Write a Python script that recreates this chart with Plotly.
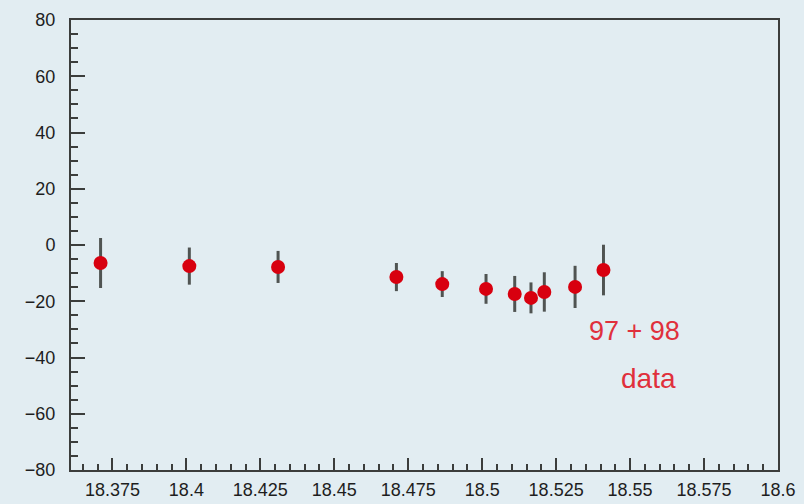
import plotly.graph_objects as go

x_vals = [18.371, 18.401, 18.431, 18.471, 18.4865, 18.5013, 18.511, 18.5165, 18.521, 18.5314, 18.541]
y_vals = [-6.4, -7.5, -7.8, -11.4, -13.9, -15.6, -17.4, -18.8, -16.7, -14.9, -8.9]
y_err = [8.9, 6.6, 5.7, 5.0, 4.6, 5.3, 6.4, 5.5, 7.0, 7.5, 9.0]

x_ticks = [18.375, 18.4, 18.425, 18.45, 18.475, 18.5, 18.525, 18.55, 18.575, 18.6]
x_ticktext = ["18.375", "18.4", "18.425", "18.45", "18.475", "18.5", "18.525", "18.55", "18.575", "18.6"]
y_ticks = [-80, -60, -40, -20, 0, 20, 40, 60, 80]

bg = "#e2edf2"
axis_col = "#3b3d3c"

fig = go.Figure()
fig.add_trace(go.Scatter(
    x=x_vals, y=y_vals, mode="markers",
    marker=dict(size=14, color="#d8000f"),
    error_y=dict(type="data", array=y_err, visible=True, color="#505452", thickness=3, width=0),
    showlegend=False,
))

fig.add_annotation(x=18.5515, y=-30.5, text="97 + 98", showarrow=False,
                   font=dict(family="Liberation Sans, Arial", size=27, color="#e0303c"))
fig.add_annotation(x=18.5562, y=-47.5, text="data", showarrow=False,
                   font=dict(family="Liberation Sans, Arial", size=28, color="#e0303c"))

fig.update_layout(
    width=804, height=504,
    margin=dict(l=71, r=26, t=20, b=34),
    paper_bgcolor=bg, plot_bgcolor=bg,
    font=dict(family="Liberation Sans, Arial", size=19, color="#1e1e1e"),
)
fig.update_xaxes(
    range=[18.361, 18.6], tickvals=x_ticks, ticktext=x_ticktext,
    showgrid=False, zeroline=False, automargin=False,
    showline=True, linecolor=axis_col, linewidth=2, mirror=True,
    ticks="inside", ticklen=12, tickwidth=2, tickcolor=axis_col,
    minor=dict(dtick=0.005, tick0=18.375, ticks="inside", ticklen=6, tickwidth=2, tickcolor=axis_col),
    tickfont=dict(size=18), ticklabelstandoff=2,
)
fig.update_yaxes(
    range=[-80, 80], tickvals=y_ticks,
    showgrid=False, zeroline=False, automargin=False,
    showline=True, linecolor=axis_col, linewidth=2, mirror=True,
    ticks="inside", ticklen=14, tickwidth=2, tickcolor=axis_col,
    minor=dict(dtick=5, tick0=0, ticks="inside", ticklen=7, tickwidth=2, tickcolor=axis_col),
    tickfont=dict(size=18), ticklabelstandoff=10,
)

fig.write_html("out.html")
